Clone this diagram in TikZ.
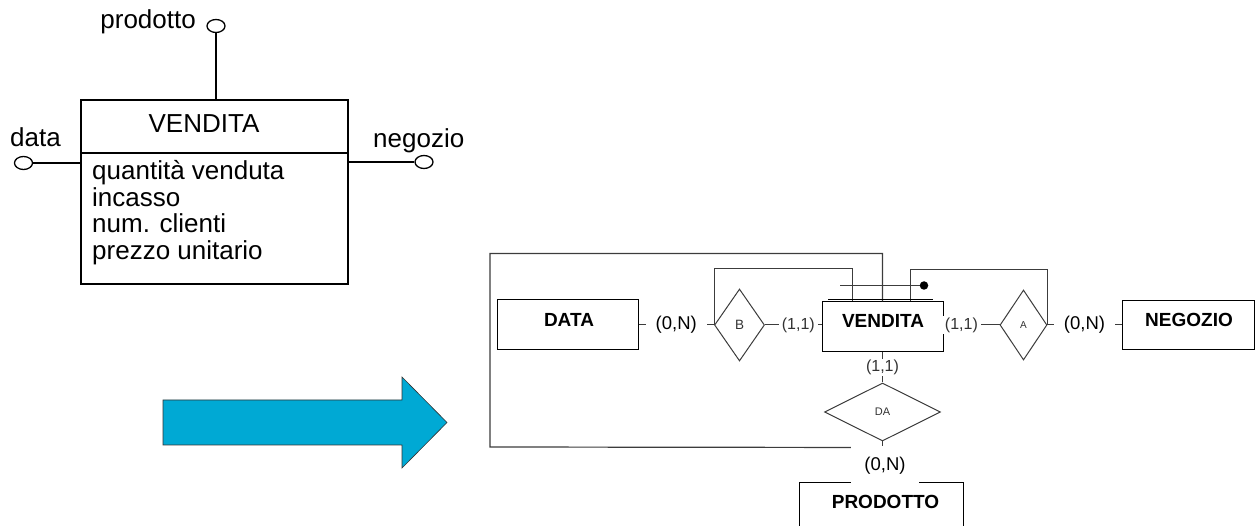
\documentclass[tikz,border=0pt]{standalone}
\usepackage{fontspec}
\setmainfont{Liberation Sans}
\usetikzlibrary{shapes.geometric,calc}
\definecolor{linegray}{RGB}{60,60,60}
\definecolor{cardgray}{RGB}{50,50,50}
\definecolor{arrowblue}{RGB}{0,169,212}
\begin{document}
\begin{tikzpicture}[x=1pt,y=-1pt,
  attrcircle/.style={ellipse, draw=black, line width=1.3pt, minimum width=18pt, minimum height=13pt, inner sep=0pt, fill=white},
  bigtext/.style={font=\fontsize{26}{29}\selectfont, inner sep=0pt},
  ent/.style={rectangle, draw=black, line width=1pt, inner sep=0pt, fill=white},
  ename/.style={font=\bfseries\fontsize{19}{22}\selectfont, inner sep=0pt, anchor=base},
  rel/.style={diamond, draw=linegray, line width=1pt, inner sep=0pt, text=cardgray},
  conn/.style={draw=linegray, line width=1pt},
  cardN/.style={fill=white, inner xsep=10pt, inner ysep=2pt, font=\fontsize{18.5}{21}\selectfont},
  card1/.style={fill=white, inner xsep=3pt, inner ysep=2pt, text=cardgray, font=\fontsize{16}{19}\selectfont},
]
\clip (0,0) rectangle (1256,526);

% ---------- fact schema ----------
\node[rectangle, draw=black, line width=1.5pt, minimum width=267pt, minimum height=184pt, inner sep=0pt] (fact) at (214.5,192) {};
\draw[line width=1.5pt] ([yshift=-54pt]fact.north west) -- ([yshift=-54pt]fact.north east);
\node[bigtext, anchor=base] (facttitle) at (204,133) {VENDITA};
\node[bigtext, anchor=base west] (m1) at (92,180) {quantità venduta};
\node[bigtext, anchor=base west] (m2) at (92,207) {incasso};
\node[bigtext, anchor=base west] (m3) at (92,233) {num. clienti};
\node[bigtext, anchor=base west] (m4) at (92,260) {prezzo unitario};

% dimensions
\node[attrcircle] (pc) at (216,26) {};
\draw[line width=1.5pt] (pc.south) -- (pc.south |- fact.north);
\node[bigtext, anchor=base east] (pl) at (196,29) {prodotto};
\node[attrcircle] (dc) at (23.5,163) {};
\draw[line width=1.5pt] (dc.east) -- (dc.east -| fact.west);
\node[bigtext, anchor=base west] (dl) at (10,147) {data};
\node[attrcircle] (nc) at (424,162) {};
\draw[line width=1.5pt] (nc.west -| fact.east) -- (nc.west);
\node[bigtext, anchor=base west] (nl) at (373,148) {negozio};

% ---------- block arrow ----------
\draw[fill=arrowblue, draw=black!80, line width=0.6pt]
  (163,400) -- (402,400) -- (402,377) -- (447,422.5) -- (402,468) -- (402,445) -- (163,445) -- cycle;

% ---------- E-R schema ----------
\node[ent, minimum width=141pt, minimum height=50pt] (data) at (567.5,325) {};
\node[ename] (datat) at (569,327) {DATA};
\node[ent, minimum width=121pt, minimum height=50pt] (vend) at (882.5,327) {};
\node[ename] (vendt) at (883,328) {VENDITA};
\node[ent, minimum width=132pt, minimum height=49pt] (neg) at (1188,325.5) {};
\node[ename] (negt) at (1189,327) {NEGOZIO};
\node[ent, minimum width=164pt, minimum height=60pt] (prod) at (881,512) {};
\node[ename] (prodt) at (885.5,508) {PRODOTTO};

\node[rel, minimum width=50pt, minimum height=72pt, font=\fontsize{13.5}{15}\selectfont] (b) at (739.5,325) {B};
\node[rel, minimum width=47pt, minimum height=70pt, font=\fontsize{10}{12}\selectfont] (a) at (1023.5,325) {A};
\node[rel, minimum width=116pt, minimum height=58pt, font=\fontsize{11}{13}\selectfont] (da) at (882.5,412) {DA};

% relationships
\draw[conn] (data.east) -- node[cardN] {(0,N)} (b.west);
\draw[conn] (b.east) -- node[card1, pos=0.59] {(1,1)} (b.east -| vend.west);
\draw[conn] (a.west -| vend.east) -- node[card1, pos=0.32] {(1,1)} (a.west);
\draw[conn] (a.east) -- node[cardN] {(0,N)} (a.east -| neg.west);
\draw[conn] (vend.south) -- node[card1, inner xsep=2pt, inner ysep=1pt] {(1,1)} (da.north);

% identifier paths
\draw[conn] (b.west) -- ++(0,-56) -| ([xshift=-30.5pt]vend.north);
\draw[conn] ([xshift=27.5pt]vend.north) -- ++(0,-32) -| (a.east);
\draw[conn, line width=1.2pt] (vend.north) -- ++(0,-48) -| (490,447) -- ($(da.south)+(0,6)$);
\draw[conn] (da.south) -- (da.south |- prod.north);
\node[fill=white, minimum width=68pt, minimum height=40pt, inner sep=0pt, font=\fontsize{18.5}{21}\selectfont] (pcard) at (885,466) {\raisebox{-2pt}{(0,N)}};

% external identifier bar
\draw[line width=1pt] ([xshift=-54.5pt,yshift=2pt]vend.north) -- ([xshift=50.5pt,yshift=2pt]vend.north);
\draw[conn] ([xshift=-42.5pt,yshift=16pt]vend.north) -- ([xshift=41.5pt,yshift=16pt]vend.north)
  node[circle, fill=black, inner sep=0pt, minimum size=8.5pt] (idot) {};
\end{tikzpicture}
\end{document}
